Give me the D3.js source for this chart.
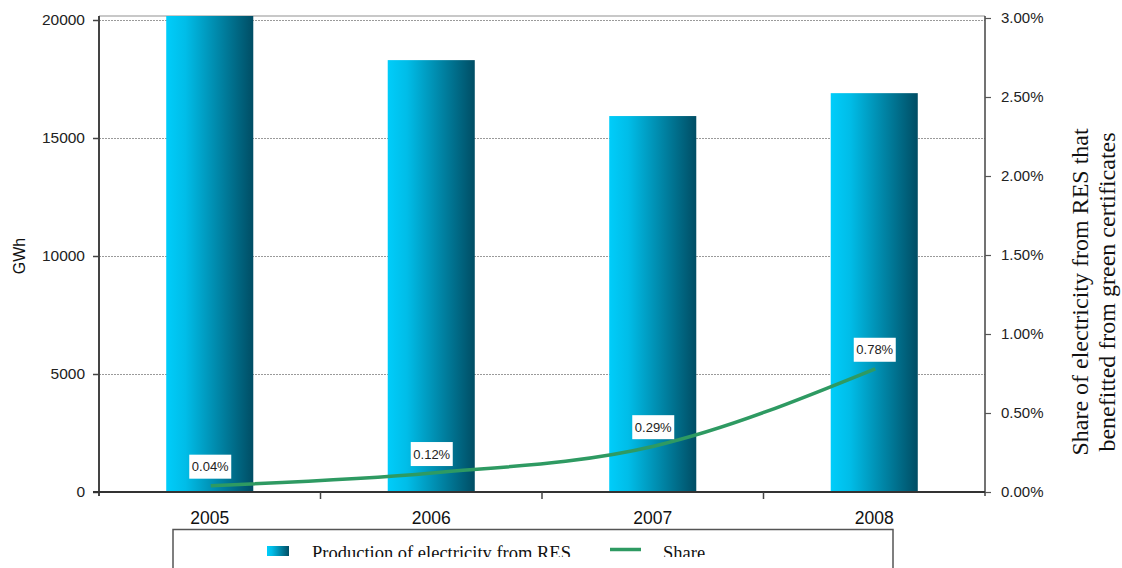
<!DOCTYPE html>
<html><head><meta charset="utf-8">
<script src="https://cdn.jsdelivr.net/npm/d3@7"></script>
<style>html,body{margin:0;padding:0;background:#fff;overflow:hidden}</style>
</head><body>
<svg id="chart" width="1122" height="568"></svg>
<script>
const years = ["2005","2006","2007","2008"];
const production = [20200, 18300, 15930, 16900];
const share = [0.0004, 0.0012, 0.0029, 0.0078];
const shareLabels = ["0.04%","0.12%","0.29%","0.78%"];
const leftTicks = [0, 5000, 10000, 15000, 20000];
const rightTicks = [0, 0.005, 0.01, 0.015, 0.02, 0.025, 0.03];
const legendLabels = ["Production of electricity from RES", "Share"];

const svg = d3.select("#chart");
const X0 = 99, X1 = 985, Y0 = 492, YT = 16;
const sans = "'Liberation Sans', Arial, sans-serif";
const serif = "'Liberation Serif', 'Times New Roman', serif";

const x = d3.scaleBand().domain(years).range([X0, X1]).padding(0);
const yL = d3.scaleLinear().domain([0, 20000]).range([Y0, 20]);
const yR = d3.scaleLinear().domain([0, 0.03]).range([Y0, 18]);
const barW = x.bandwidth() * 0.393;

const defs = svg.append("defs");
const grad = defs.append("linearGradient").attr("id", "barGrad").attr("x1", "0").attr("x2", "1").attr("y1", "0").attr("y2", "0");
grad.append("stop").attr("offset", "0%").attr("stop-color", "#00cdfa");
grad.append("stop").attr("offset", "22%").attr("stop-color", "#00bde8");
grad.append("stop").attr("offset", "100%").attr("stop-color", "#004d64");
defs.append("clipPath").attr("id", "plotClip").append("rect")
  .attr("x", X0).attr("y", YT).attr("width", X1 - X0).attr("height", Y0 - YT);
defs.append("clipPath").attr("id", "legClip").append("rect")
  .attr("x", 0).attr("y", 0).attr("width", 1122).attr("height", 557);

// top frame line
svg.append("line").attr("x1", X0).attr("x2", X1).attr("y1", YT).attr("y2", YT)
  .attr("stroke", "#c8c8c8").attr("stroke-width", 2);

// gridlines
svg.append("g").selectAll("line").data(leftTicks.filter(d => d > 0)).join("line")
  .attr("x1", X0).attr("x2", X1).attr("y1", d => yL(d) + 0.5).attr("y2", d => yL(d) + 0.5)
  .attr("stroke", "#9a9a9a").attr("stroke-width", 1).attr("stroke-dasharray", "2,1");

// bars
svg.append("g").attr("clip-path", "url(#plotClip)").selectAll("rect").data(years).join("rect")
  .attr("x", (d) => x(d) + x.bandwidth() / 2 - barW / 2)
  .attr("y", (d, i) => yL(production[i]))
  .attr("width", barW)
  .attr("height", (d, i) => Y0 - yL(production[i]))
  .attr("fill", "url(#barGrad)");

// left axis
const axL = svg.append("g").attr("transform", `translate(${X0},0)`)
  .call(d3.axisLeft(yL).tickValues(leftTicks).tickSize(6).tickPadding(8).tickFormat(d3.format("d")));
axL.select(".domain").attr("stroke", "#444").attr("stroke-width", 2).attr("d", `M0,${YT}V${Y0 + 4}`);
axL.selectAll(".tick line").attr("stroke", "#444").attr("stroke-width", 1.5);
axL.selectAll("text").attr("font-family", sans).attr("font-size", "15.5px").attr("fill", "#222");

// right axis
const axR = svg.append("g").attr("transform", `translate(${X1},0)`)
  .call(d3.axisRight(yR).tickValues(rightTicks).tickSize(6).tickPadding(10).tickFormat(d3.format(".2%")));
axR.select(".domain").attr("stroke", "#444").attr("stroke-width", 1.5).attr("d", `M0,${YT}V${Y0 + 4}`);
axR.selectAll(".tick line").attr("stroke", "#555").attr("stroke-width", 1.2);
axR.selectAll("text").attr("font-family", sans).attr("font-size", "15px").attr("fill", "#222");

// bottom axis
const axB = svg.append("g").attr("transform", `translate(0,${Y0})`)
  .call(d3.axisBottom(x).tickSize(0).tickPadding(20));
axB.select(".domain").attr("stroke", "#333").attr("stroke-width", 2).attr("d", `M${X0 - 6},0H${X1}`);
axB.selectAll("text").attr("font-family", sans).attr("font-size", "17.5px").attr("fill", "#111");
svg.append("g").selectAll("line").data(years.slice(1)).join("line")
  .attr("x1", d => x(d)).attr("x2", d => x(d)).attr("y1", Y0).attr("y2", Y0 + 7)
  .attr("stroke", "#444").attr("stroke-width", 1.5);

// share line
const cx = d => x(d) + x.bandwidth() / 2 + 1;
const line = d3.line().x((d, i) => cx(years[i])).y(d => yR(d)).curve(d3.curveMonotoneX);
svg.append("path").datum(share).attr("d", line)
  .attr("fill", "none").attr("stroke", "#2e9a62").attr("stroke-width", 3.5);

// data labels
const lab = svg.append("g").selectAll("g").data(share).join("g")
  .attr("transform", (d, i) => `translate(${cx(years[i]) - 0.5},${yR(d) - 19})`);
lab.append("rect").attr("x", -21).attr("y", -12).attr("width", 42).attr("height", 24).attr("fill", "#fff");
lab.append("text").text((d, i) => shareLabels[i]).attr("text-anchor", "middle").attr("dy", "0.36em")
  .attr("font-family", sans).attr("font-size", "13px").attr("fill", "#222");

// left title
svg.append("text").text("GWh").attr("transform", "translate(25,256) rotate(-90)")
  .attr("text-anchor", "middle").attr("font-family", sans).attr("font-size", "16px").attr("fill", "#111");

// right title
const rt = svg.append("text").attr("transform", "translate(1088,292) rotate(-90)")
  .attr("text-anchor", "middle").attr("font-family", serif).attr("font-size", "24px").attr("fill", "#111");
rt.append("tspan").attr("x", 0).attr("y", 0).text("Share of electricity from RES that");
rt.append("tspan").attr("x", 0).attr("y", 27).text("benefitted from green certificates");

// legend
const leg = svg.append("g");
leg.append("path").attr("d", "M173,580V529.5H893V580").attr("fill", "none").attr("stroke", "#555").attr("stroke-width", 1.5);
leg.append("rect").attr("x", 267).attr("y", 546).attr("width", 22).attr("height", 10).attr("fill", "url(#barGrad)");
leg.append("line").attr("x1", 610).attr("x2", 641).attr("y1", 549.5).attr("y2", 549.5).attr("stroke", "#2e9a62").attr("stroke-width", 3.5);
const lt = leg.append("g").attr("clip-path", "url(#legClip)");
lt.append("text").attr("x", 312).attr("y", 559).text(legendLabels[0])
  .attr("font-family", serif).attr("font-size", "18.5px").attr("fill", "#111");
lt.append("text").attr("x", 663).attr("y", 559).text(legendLabels[1])
  .attr("font-family", serif).attr("font-size", "18.5px").attr("fill", "#111");
</script>
</body></html>
